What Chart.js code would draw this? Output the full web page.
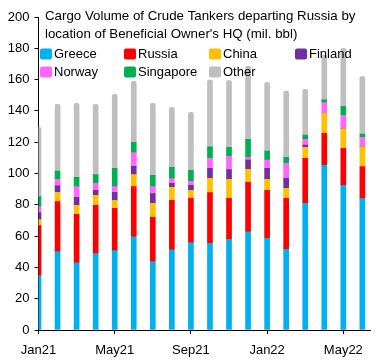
<!DOCTYPE html>
<html>
<head>
<meta charset="utf-8">
<script src="https://cdn.jsdelivr.net/npm/chart.js@4.4.1/dist/chart.umd.min.js"></script>
<style>
  html, body { margin: 0; padding: 0; background: #fff; }
  #wrap { width: 382px; height: 361px; }
</style>
</head>
<body>
<div id="wrap"><canvas id="grafico" width="382" height="361"></canvas></div>
<script>
const meses = ["Jan21", "Feb21", "Mar21", "Apr21", "May21", "Jun21", "Jul21", "Aug21", "Sep21",
  "Oct21", "Nov21", "Dec21", "Jan22", "Feb22", "Mar22", "Apr22", "May22", "Jun22"];
const greece    = [34.7, 50.1, 43.0, 48.8, 50.7, 59.6, 43.7, 51.3, 55.8, 55.4, 57.9, 62.8, 58.6, 51.5, 80.9, 105.2, 92.4, 84.1];
const russia    = [32.0, 31.9, 30.9, 30.9, 27.0, 32.0, 28.3, 31.5, 28.3, 32.4, 26.2, 31.6, 30.6, 32.6, 28.8, 20.5, 23.7, 20.4];
const china     = [3.8, 6.0, 5.8, 6.3, 5.1, 7.7, 8.9, 8.4, 5.1, 9.1, 12.2, 8.3, 7.1, 6.4, 7.0, 12.7, 12.6, 12.6];
const finland   = [4.6, 4.2, 5.1, 3.2, 5.2, 5.3, 6.2, 2.5, 3.2, 6.4, 6.2, 5.9, 7.0, 6.4, 1.5, 0, 0, 0];
const norway    = [3.7, 4.1, 6.8, 4.5, 3.6, 8.7, 4.5, 3.0, 2.6, 6.4, 8.5, 1.7, 5.3, 9.6, 3.6, 6.9, 8.5, 6.0];
const singapore = [6.4, 5.3, 5.9, 5.6, 11.7, 6.6, 7.2, 7.2, 7.0, 7.4, 5.7, 11.5, 5.8, 3.8, 2.7, 1.7, 5.8, 2.1];
const other     = [44.3, 42.6, 47.3, 44.9, 47.3, 39.0, 46.0, 38.4, 37.1, 42.6, 42.6, 46.7, 43.9, 42.4, 29.3, 28.7, 37.0, 36.8];
const yTicks = [0, 20, 40, 60, 80, 100, 120, 140, 160, 180, 200];
const xTicks = [0, 4, 8, 12, 16];

const tituloLinhas = ["Cargo Volume of Crude Tankers departing Russia by",
  "location of Beneficial Owner's HQ (mil. bbl)"];

const series = [
  { nome: "Greece", valores: greece, cor: "#00B0F0" },
  { nome: "Russia", valores: russia, cor: "#FF0000" },
  { nome: "China", valores: china, cor: "#FFC000" },
  { nome: "Finland", valores: finland, cor: "#7030A0" },
  { nome: "Norway", valores: norway, cor: "#FF66FF" },
  { nome: "Singapore", valores: singapore, cor: "#00B050" },
  { nome: "Other", valores: other, cor: "#BFBFBF" }
];

const fonte = "'Liberation Sans', Arial, sans-serif";

// title + legend drawn inside the plot area, like the original
const legendaInterna = {
  id: "legendaInterna",
  afterDraw(chart) {
    const c = chart.ctx;
    c.save();
    c.fillStyle = "#000";
    c.textBaseline = "middle";
    c.font = "13.3px " + fonte;
    c.fillText(tituloLinhas[0], 45, 16);
    c.fillText(tituloLinhas[1], 45, 34);
    c.font = "13px " + fonte;
    const colunas = [40, 124, 209, 295];
    const linhas = [54, 72];
    series.forEach((s, i) => {
      const x = colunas[i % 4];
      const y = linhas[Math.floor(i / 4)];
      c.fillStyle = s.cor;
      c.beginPath();
      c.roundRect(x, y - 5.5, 12, 11, 2);
      c.fill();
      c.fillStyle = "#000";
      c.fillText(s.nome, x + 14, y);
    });
    c.restore();
  }
};

const ctx = document.getElementById("grafico").getContext("2d");
new Chart(ctx, {
  type: "bar",
  data: {
    datasets: series.map((s, i) => ({
      label: s.nome,
      data: s.valores.map((v, j) => ({ x: j, y: v })),
      backgroundColor: s.cor,
      barThickness: 5,
      borderRadius: i === series.length - 1 ? { topLeft: 2, topRight: 2 } : 0,
      borderSkipped: false
    }))
  },
  options: {
    responsive: false,
    animation: false,
    layout: { padding: { top: 17, right: 12, left: 0, bottom: 0 } },
    plugins: {
      legend: { display: false },
      tooltip: { enabled: false }
    },
    scales: {
      x: {
        type: "linear",
        stacked: true,
        offset: false,
        min: 0,
        max: 17.4,
        afterBuildTicks: scale => { scale.ticks = xTicks.map(v => ({ value: v })); },
        afterFit: scale => { scale.height = 31; },
        ticks: {
          color: "#000",
          font: { family: fonte, size: 13 },
          padding: 9,
          maxRotation: 0,
          callback: v => meses[v]
        },
        grid: { drawOnChartArea: false, drawTicks: true, tickLength: 4, color: "#000", offset: false },
        border: { color: "#000", width: 1 }
      },
      y: {
        stacked: true,
        min: 0,
        max: 200,
        afterBuildTicks: scale => { scale.ticks = yTicks.map(v => ({ value: v })); },
        afterFit: scale => { scale.width = 38.5; },
        ticks: {
          color: "#000",
          font: { family: fonte, size: 13 },
          padding: 5
        },
        grid: { drawOnChartArea: false, drawTicks: true, tickLength: 4, color: "#000" },
        border: { color: "#000", width: 1 }
      }
    }
  },
  plugins: [legendaInterna]
});
</script>
</body>
</html>
